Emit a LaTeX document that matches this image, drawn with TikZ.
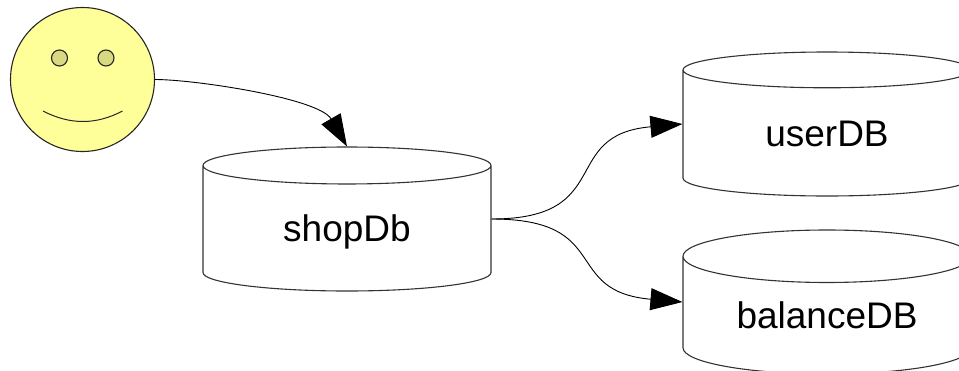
\documentclass[tikz,border=0pt]{standalone}
\usepackage{fontspec}
\setmainfont{Liberation Sans}
\usetikzlibrary{shapes,arrows.meta,positioning}

\definecolor{facefill}{HTML}{FFFF99}
\definecolor{eyefill}{HTML}{D9D982}
\tikzset{
	dbnode/.style={draw=black!80,fill=white,line width=1.1pt,shape=cylinder,shape border rotate=90,aspect=.29,minimum width=288pt,minimum height=144pt,inner sep=0pt,anchor=shape center,text height=30pt,text depth=4pt,font=\fontsize{37}{40}\selectfont},
	facenode/.style={circle,draw=black!85,fill=facefill,line width=1.1pt,minimum size=144pt,inner sep=0pt},
	eyenode/.style={circle,draw=black!85,fill=eyefill,line width=1.1pt,minimum size=16pt,inner sep=0pt},
	link/.style={-{Triangle[length=32pt,width=22pt]},line width=.9pt,black}
}

\begin{document}
\begin{tikzpicture}[x=1pt,y=-1pt]
	\useasboundingbox (0,0) rectangle (959,370);

	\node[facenode] (face) at (82.5,79.5) {};
	\node[eyenode] (eyeL) at (59.5,58) {};
	\node[eyenode] (eyeR) at (106,58) {};
	\coordinate (smileL) at (43,111);
	\coordinate (smileR) at (122.5,111);
	\draw[line width=1pt,black!85] (smileL) .. controls (70,125) and (96,125) .. (smileR);

	\node[dbnode] (shopDb) at (347,219) {shopDb};
	\node[dbnode] (userDB) at (827,124) {userDB};
	\node[dbnode] (balanceDB) at (827,302) {balanceDB};

	\draw[link] (face.east) to[out=0,in=120,out looseness=.5,in looseness=.7] (shopDb.north);
	\draw[link] (shopDb.east |- shopDb.shape center) to[out=0,in=185,looseness=1.5] (userDB.west |- userDB.shape center);
	\draw[link] (shopDb.east |- shopDb.shape center) to[out=0,in=175,looseness=1.5] (balanceDB.west |- balanceDB.shape center);
\end{tikzpicture}
\end{document}
